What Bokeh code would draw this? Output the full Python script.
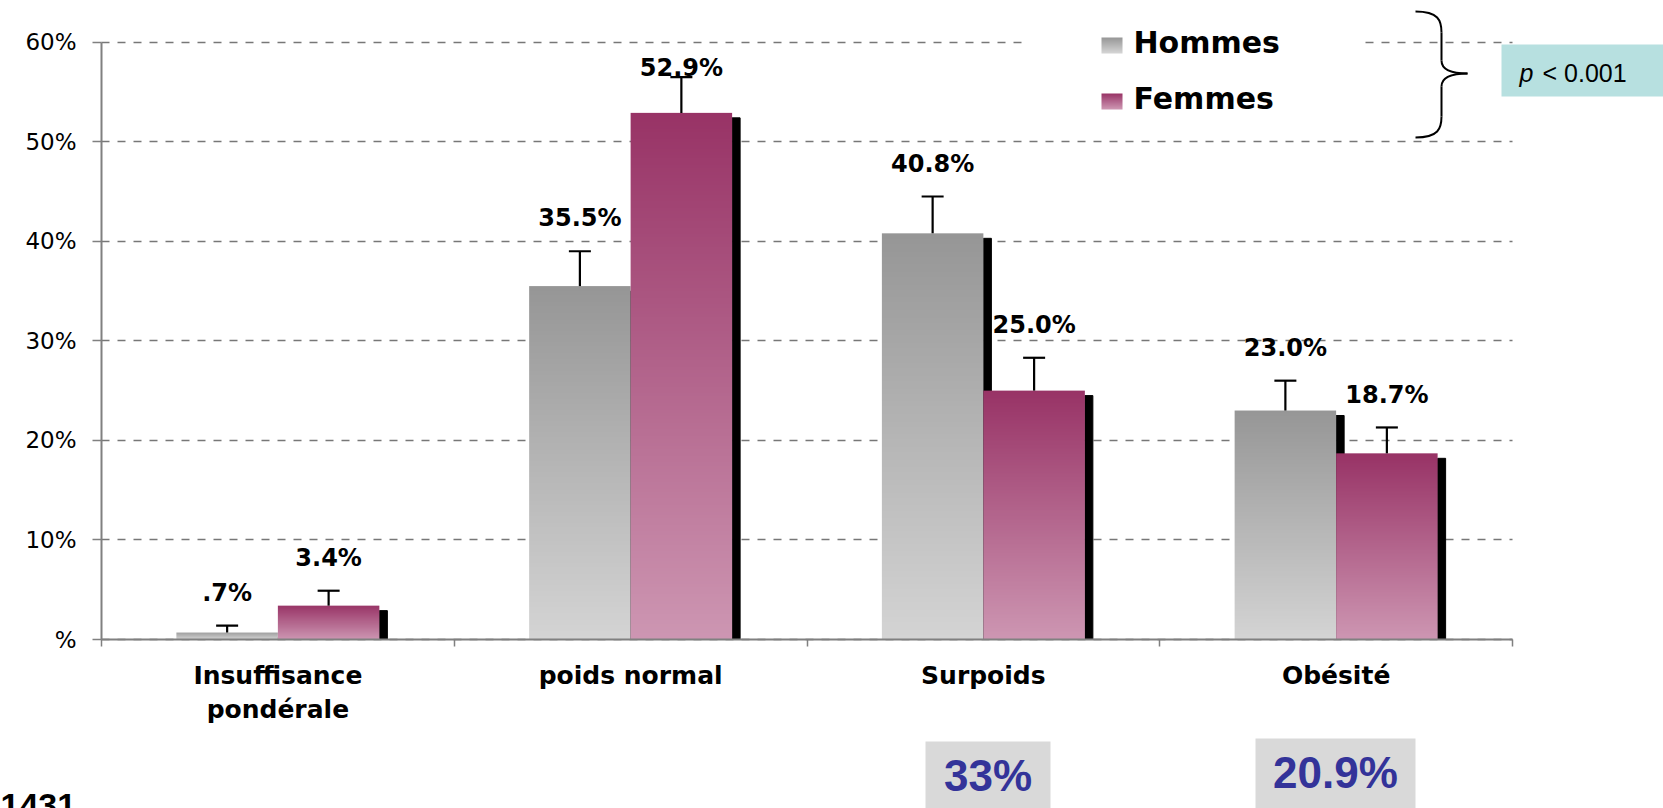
import numpy as np
from bokeh.plotting import figure
from bokeh.models import (Range1d, FixedTicker, Whisker, TeeHead, ColumnDataSource,
                          Label, BoxAnnotation)
from bokeh.core.properties import value
from bokeh.embed import file_html
from bokeh.resources import INLINE

# ---------------- data ----------------
categories = ["Insuffisance\npondérale", "poids normal", "Surpoids", "Obésité"]
hommes = [0.7, 35.5, 40.8, 23.0]
femmes = [3.4, 52.9, 25.0, 18.7]
hommes_err = [0.7, 3.5, 3.7, 3.0]
femmes_err = [1.5, 3.6, 3.3, 2.6]
hommes_labels = [".7%", "35.5%", "40.8%", "23.0%"]
femmes_labels = ["3.4%", "52.9%", "25.0%", "18.7%"]
y_ticks = [0, 10, 20, 30, 40, 50, 60]
y_tick_labels = ["%", "10%", "20%", "30%", "40%", "50%", "60%"]
series_names = ["Hommes", "Femmes"]
combined_labels = ["33%", "20.9%"]
n_label = "1431"
p_text = "< 0.001"

# ---------------- styles ----------------
H_TOP, H_BOT = (150, 150, 150), (212, 212, 212)
F_TOP, F_BOT = (152, 51, 102), (205, 150, 178)
BAR_W = 0.2877
SHADOW_W = 8 / 352.75
SHADOW_DROP = 0.5
LABEL_GAP = 3.3
LABEL_MAX = 57.4
FONT_NAME = "DejaVu Sans"
FONT = value(FONT_NAME)
W, H = 1663, 808


def X(px):
    return (px - 101) / 352.75


def Y(py):
    return (639 - py) / 9.955


def gradient(top, bottom, n=160, w=6):
    t = np.linspace(0, 1, n)[:, None]
    img = np.zeros((n, w), dtype=np.uint32)
    v = img.view(dtype=np.uint8).reshape((n, w, 4))
    for k in range(3):
        v[:, :, k] = np.round(bottom[k] * (1 - t) + top[k] * t).astype(np.uint8)
    v[:, :, 3] = 255
    return img


p = figure(width=W, height=H, x_range=Range1d(X(0), X(W)), y_range=Range1d(Y(H), Y(0)),
           output_backend="svg", toolbar_location=None, min_border=0)
p.outline_line_color = None
p.background_fill_color = "white"
p.border_fill_color = "white"

# axes
p.yaxis.fixed_location = 0
p.yaxis.ticker = FixedTicker(ticks=y_ticks)
p.yaxis.major_label_overrides = {t: l for t, l in zip(y_ticks, y_tick_labels)}
p.yaxis.bounds = (0, 60)
p.yaxis.axis_line_color = "#808080"
p.yaxis.axis_line_width = 2
p.yaxis.major_tick_line_color = "#808080"
p.yaxis.major_tick_line_width = 1.5
p.yaxis.major_tick_out = 9
p.yaxis.major_tick_in = 0
p.yaxis.minor_tick_line_color = None
p.yaxis.major_label_text_font = FONT_NAME
p.yaxis.major_label_text_font_size = "23px"
p.yaxis.major_label_text_color = "black"
p.yaxis.major_label_standoff = 16

centers = [i + 0.5 for i in range(len(categories))]
p.xaxis.fixed_location = 0
p.xaxis.ticker = FixedTicker(ticks=centers, minor_ticks=[0, 1, 2, 3, 4])
p.xaxis.major_label_overrides = {c: l for c, l in zip(centers, categories)}
p.xaxis.bounds = (0, 4)
p.xaxis.axis_line_color = "#808080"
p.xaxis.axis_line_width = 2
p.xaxis.major_tick_line_color = None
p.xaxis.major_tick_out = 0
p.xaxis.major_tick_in = 0
p.xaxis.minor_tick_line_color = "#808080"
p.xaxis.minor_tick_line_width = 1.5
p.xaxis.minor_tick_out = 7
p.xaxis.minor_tick_in = 0
p.xaxis.major_label_text_font = FONT_NAME
p.xaxis.major_label_text_font_style = "bold"
p.xaxis.major_label_text_font_size = "25px"
p.xaxis.major_label_text_color = "black"
p.xaxis.major_label_text_line_height = 1.18
p.xaxis.major_label_standoff = 14

p.xgrid.grid_line_color = None
g = p.ygrid[0]
g.ticker = FixedTicker(ticks=y_ticks)
g.grid_line_color = "#777777"
g.grid_line_width = 1.5
g.grid_line_dash = "8 8"
if "cross_bounds" in g.properties():
    g.cross_bounds = (0, 4)
else:
    for l, r in ((X(0), 0), (4, X(W))):
        p.add_layout(BoxAnnotation(left=l, right=r, fill_color="white", fill_alpha=1,
                                   line_color=None, level="underlay"))

# legend background (hides the gridline behind legend)
p.add_layout(BoxAnnotation(left=X(1023), right=X(1358), bottom=Y(125), top=Y(15),
                           fill_color="white", fill_alpha=1, line_color=None, level="underlay"))

# bars
h_left = [c - BAR_W for c in centers]
f_left = list(centers)
h_right = [c for c in centers]
f_right = [c + BAR_W for c in centers]

p.quad(left=h_right, right=[r + SHADOW_W for r in h_right],
       top=[v - SHADOW_DROP for v in hommes], bottom=0, color="black")
p.image_rgba(image=[gradient(H_TOP, H_BOT)] * 4, x=h_left, y=[0] * 4,
             dw=[BAR_W] * 4, dh=hommes, level="glyph")
p.quad(left=f_right, right=[r + SHADOW_W for r in f_right],
       top=[v - SHADOW_DROP for v in femmes], bottom=0, color="black")
p.image_rgba(image=[gradient(F_TOP, F_BOT)] * 4, x=f_left, y=[0] * 4,
             dw=[BAR_W] * 4, dh=femmes, level="glyph")

# error bars
for lefts, vals, errs in ((h_left, hommes, hommes_err), (f_left, femmes, femmes_err)):
    src = ColumnDataSource(dict(x=[l + BAR_W / 2 for l in lefts], lower=vals,
                                upper=[v + e for v, e in zip(vals, errs)]))
    p.add_layout(Whisker(source=src, base="x", lower="lower", upper="upper",
                         dimension="height", line_color="black", line_width=2.2,
                         lower_head=None,
                         upper_head=TeeHead(size=22, line_color="black", line_width=2.2),
                         level="annotation"))

# value labels
for lefts, vals, errs, labs in ((h_left, hommes, hommes_err, hommes_labels),
                                (f_left, femmes, femmes_err, femmes_labels)):
    p.text(x=[l + BAR_W / 2 for l in lefts],
           y=[min(v + e + LABEL_GAP, LABEL_MAX) for v, e in zip(vals, errs)],
           text=labs, text_align="center", text_baseline="middle",
           text_font=FONT, text_font_style="bold", text_font_size="24px",
           text_color="black")

# legend
p.image_rgba(image=[gradient(H_TOP, H_BOT, 32, 4), gradient(F_TOP, F_BOT, 32, 4)],
             x=[X(1101)] * 2, y=[Y(53), Y(109)], dw=[21 / 352.75] * 2,
             dh=[16 / 9.955] * 2, level="glyph")
for name, cy in zip(series_names, (42, 98)):
    p.add_layout(Label(x=X(1133), y=Y(cy), text=name, text_font=FONT_NAME,
                       text_font_style="bold", text_font_size="30px",
                       text_baseline="middle", text_color="black"))

# brace
bz = [((1415, 11), (1438, 11), (1441, 20), (1441, 32)),
      ((1441, 60), (1441, 70), (1452, 73), (1467, 73)),
      ((1467, 73), (1452, 73), (1441, 76), (1441, 86)),
      ((1441, 116), (1441, 128), (1438, 137), (1415, 137))]
p.bezier(x0=[X(b[0][0]) for b in bz], y0=[Y(b[0][1]) for b in bz],
         cx0=[X(b[1][0]) for b in bz], cy0=[Y(b[1][1]) for b in bz],
         cx1=[X(b[2][0]) for b in bz], cy1=[Y(b[2][1]) for b in bz],
         x1=[X(b[3][0]) for b in bz], y1=[Y(b[3][1]) for b in bz],
         line_color="black", line_width=2)
p.segment(x0=[X(1441)] * 2, y0=[Y(32), Y(86)], x1=[X(1441)] * 2, y1=[Y(60), Y(116)],
          line_color="black", line_width=2)

# p-value box
p.add_layout(BoxAnnotation(left=X(1501), right=X(1680), bottom=Y(96), top=Y(44),
                           fill_color="#b7e0e0", fill_alpha=1, line_color=None,
                           level="annotation"))
p.add_layout(Label(x=X(1519), y=Y(72), text="p", text_font="Liberation Sans",
                   text_font_style="italic", text_font_size="25px",
                   text_baseline="middle", text_color="black"))
p.add_layout(Label(x=X(1542), y=Y(72), text=p_text, text_font="Liberation Sans",
                   text_font_size="25px", text_baseline="middle", text_color="black"))

# combined values boxes
for (l, r, t, cx, cy), lab in zip(((925, 1050, 741, 987.5, 775), (1255, 1415, 738, 1335, 772)),
                                  combined_labels):
    p.add_layout(BoxAnnotation(left=X(l), right=X(r), bottom=Y(830), top=Y(t),
                               fill_color="#d9d9d9", fill_alpha=1, line_color=None,
                               level="annotation"))
    p.add_layout(Label(x=X(cx), y=Y(cy), text=lab, text_align="center",
                       text_baseline="middle",
                       text_font="Liberation Sans", text_font_style="bold",
                       text_font_size="44px", text_color="#333399"))

p.add_layout(Label(x=X(0), y=Y(793), text=n_label, text_baseline="top",
                   text_font="Liberation Sans", text_font_style="bold",
                   text_font_size="34px", text_color="black"))

open("out.html", "w").write(file_html(p, INLINE, title="IMC"))
